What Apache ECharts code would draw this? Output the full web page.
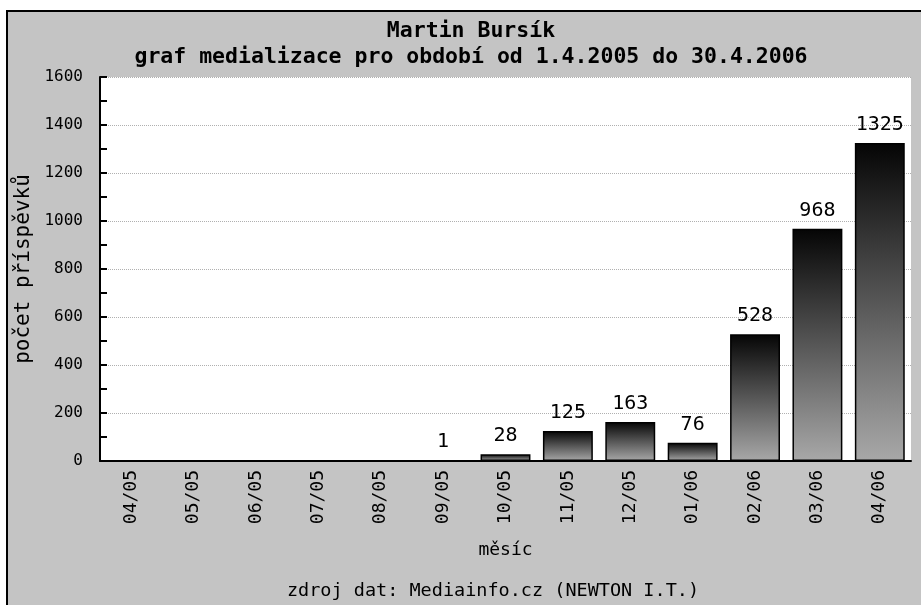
<!DOCTYPE html>
<html><head><meta charset="utf-8">
<script src="https://cdn.jsdelivr.net/npm/echarts@6/dist/echarts.min.js"></script>
<style>html,body{margin:0;padding:0;background:#fff}#c{width:921px;height:605px}</style>
</head><body><div id="c"></div>
<script>
const months = ['04/05','05/05','06/05','07/05','08/05','09/05','10/05','11/05','12/05','01/06','02/06','03/06','04/06'];
const counts = [0,0,0,0,0,1,28,125,163,76,528,968,1325];
const yTicks = [0,200,400,600,800,1000,1200,1400,1600];
const titleLine1 = 'Martin Bursík';
const titleLine2 = 'graf medializace pro období od 1.4.2005 do 30.4.2006';
const sourceText = 'zdroj dat: Mediainfo.cz (NEWTON I.T.)';
const FONT = '"DejaVu Sans Mono", monospace';

const chart = echarts.init(document.getElementById('c'), null, {renderer:'canvas'});
chart.setOption({
  backgroundColor:'#fff',
  animation:false,
  graphic:[
    {type:'rect', z:-10, shape:{x:8,y:12,width:913,height:593}, style:{fill:'#c4c4c4'}},
    {type:'line', z:-9, shape:{x1:6,y1:11,x2:921,y2:11}, style:{stroke:'#000', lineWidth:2}},
    {type:'line', z:-9, shape:{x1:7,y1:10,x2:7,y2:605}, style:{stroke:'#000', lineWidth:2}},
    {type:'text', z:10, x:471, y:31.5, style:{text:titleLine1, font:'bold 21.5px '+FONT, fill:'#000', textAlign:'center', textVerticalAlign:'middle'}},
    {type:'text', z:10, x:471, y:57.5, style:{text:titleLine2, font:'bold 21.5px '+FONT, fill:'#000', textAlign:'center', textVerticalAlign:'middle'}},
    {type:'text', z:10, x:493, y:591, style:{text:sourceText, font:'18.5px '+FONT, fill:'#000', textAlign:'center', textVerticalAlign:'middle'}}
  ],
  grid:{left:100, right:10, top:77, bottom:144, show:true, backgroundColor:'#fff', borderWidth:0},
  xAxis:{
    type:'category', data:months,
    name:'měsíc', nameLocation:'middle', nameGap:80,
    nameTextStyle:{fontFamily:FONT, fontSize:18, color:'#000'},
    axisLine:{lineStyle:{color:'#000', width:2}},
    axisTick:{show:false},
    axisLabel:{rotate:90, fontFamily:FONT, fontSize:18, color:'#000', margin:9, interval:0}
  },
  yAxis:{
    type:'value', min:0, max:1600, interval:200,
    name:'počet příspěvků', nameLocation:'middle', nameGap:65,
    nameTextStyle:{fontFamily:FONT, fontSize:21, color:'#000'},
    axisLine:{show:true, lineStyle:{color:'#000', width:2}},
    axisTick:{show:true, inside:true, length:7, lineStyle:{color:'#000', width:2}},
    minorTick:{show:true, splitNumber:2, length:7, lineStyle:{color:'#000', width:2}},
    axisLabel:{fontFamily:FONT, fontSize:16, color:'#000', margin:17, formatter:v=>yTicks.includes(v)?String(v):''},
    splitLine:{show:true, lineStyle:{color:'#b0b0b0', type:'dotted', width:1}}
  },
  series:[{
    type:'bar', data:counts, barWidth:'80%',
    itemStyle:{
      color:new echarts.graphic.LinearGradient(0,0,0,1,[{offset:0,color:'#050505'},{offset:1,color:'#a8a8a8'}]),
      borderColor:'#000', borderWidth:1.5
    },
    label:{show:true, position:'top', distance:8, fontFamily:FONT, fontSize:20, color:'#000',
      formatter:p=>p.value>0?String(p.value):''}
  }]
});
</script></body></html>
